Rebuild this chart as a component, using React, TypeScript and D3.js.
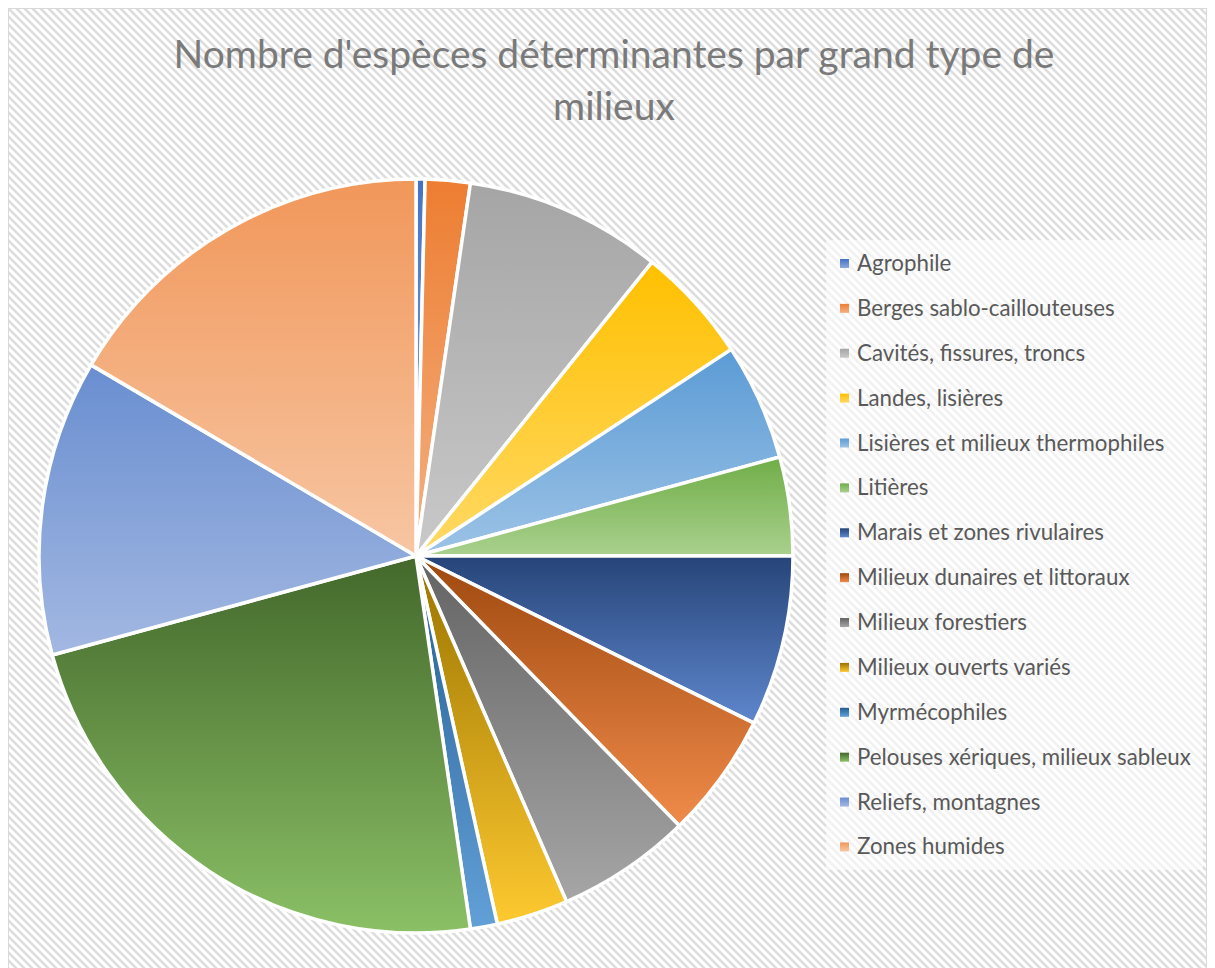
import React from "react";
import * as d3 from "d3";

const categories = [
  "Agrophile",
  "Berges sablo-caillouteuses",
  "Cavités, fissures, troncs",
  "Landes, lisières",
  "Lisières et milieux thermophiles",
  "Litières",
  "Marais et zones rivulaires",
  "Milieux dunaires et littoraux",
  "Milieux forestiers",
  "Milieux ouverts variés",
  "Myrmécophiles",
  "Pelouses xériques, milieux sableux",
  "Reliefs, montagnes",
  "Zones humides",
];

const values = [1, 5, 22, 13, 13, 11, 19, 14, 15, 8, 3, 60, 33, 43];

const colorsTop = [
  "#4472c4", "#ed7d31", "#a5a5a5", "#ffc000", "#5b9bd5", "#70ad47",
  "#264478", "#9e480e", "#636363", "#997300", "#255e91", "#43682b",
  "#698ed0", "#f1975a",
];
const colorsBottom = [
  "#8faadc", "#f4b183", "#c9c9c9", "#ffd966", "#9dc3e6", "#a9d18e",
  "#5f87cd", "#f08b4a", "#a6a6a6", "#fec930", "#62a0d8", "#8bc066",
  "#a3b8e2", "#f7c6a3",
];

const titleLines = ["Nombre d'espèces déterminantes par grand type de", "milieux"];

const W = 1199;
const H = 960;

export default function App() {
  const cx = 408;
  const cy = 548;
  const r = 377;

  const data = categories.map((c, i) => ({ name: c, value: values[i], i }));
  const pie = d3.pie<any>().value((d) => d.value).sort(null);
  const arcs = pie(data);
  const arcGen = d3.arc<any>().innerRadius(0).outerRadius(r);

  const legendX = 818;
  const legendY0 = 255.5;
  const legendStep = 44.88;

  return (
    <svg width={W} height={H} style={{ display: "block" }}>
      <defs>
        <pattern id="hatch" width={8} height={8} patternUnits="userSpaceOnUse">
          <rect width={8} height={8} fill="#ffffff" />
          <path
            d="M0,0 L8,8 M-4,4 L4,12 M4,-4 L12,4"
            stroke="#dddddd"
            strokeWidth={2.5}
          />
        </pattern>
        {data.map((d) => (
          <linearGradient key={d.i} id={`g${d.i}`} x1="0" y1="0" x2="0" y2="1">
            <stop offset="0" stopColor={colorsTop[d.i]} />
            <stop offset="1" stopColor={colorsBottom[d.i]} />
          </linearGradient>
        ))}
      </defs>
      <rect x={0.5} y={0.5} width={W - 1} height={H + 10} fill="url(#hatch)" stroke="#d9d9d9" strokeWidth={1} />

      <g fontFamily="Lato, 'Open Sans', sans-serif" fill="#7a7a7a" fontSize={39} textAnchor="middle">
        {titleLines.map((t, i) => (
          <text key={i} x={606} y={60 + i * 52}>
            {t}
          </text>
        ))}
      </g>

      <g transform={`translate(${cx},${cy})`}>
        {arcs.map((a, i) => (
          <path
            key={i}
            d={arcGen(a) as string}
            fill={`url(#g${i})`}
            stroke="#ffffff"
            strokeWidth={3.5}
            strokeLinejoin="round"
          />
        ))}
      </g>

      <rect x={818} y={232} width={377} height={630} fill="#ffffff" fillOpacity={0.6} />
      <g fontFamily="Lato, 'Open Sans', sans-serif" fontSize={22.3} fill="#595959">
        {data.map((d, i) => {
          const y = legendY0 + i * legendStep;
          return (
            <g key={i}>
              <rect x={legendX + 14} y={y - 4.5} width={9} height={9} fill={`url(#g${i})`} />
              <text x={legendX + 31} y={y + 7.5}>
                {d.name}
              </text>
            </g>
          );
        })}
      </g>
    </svg>
  );
}
